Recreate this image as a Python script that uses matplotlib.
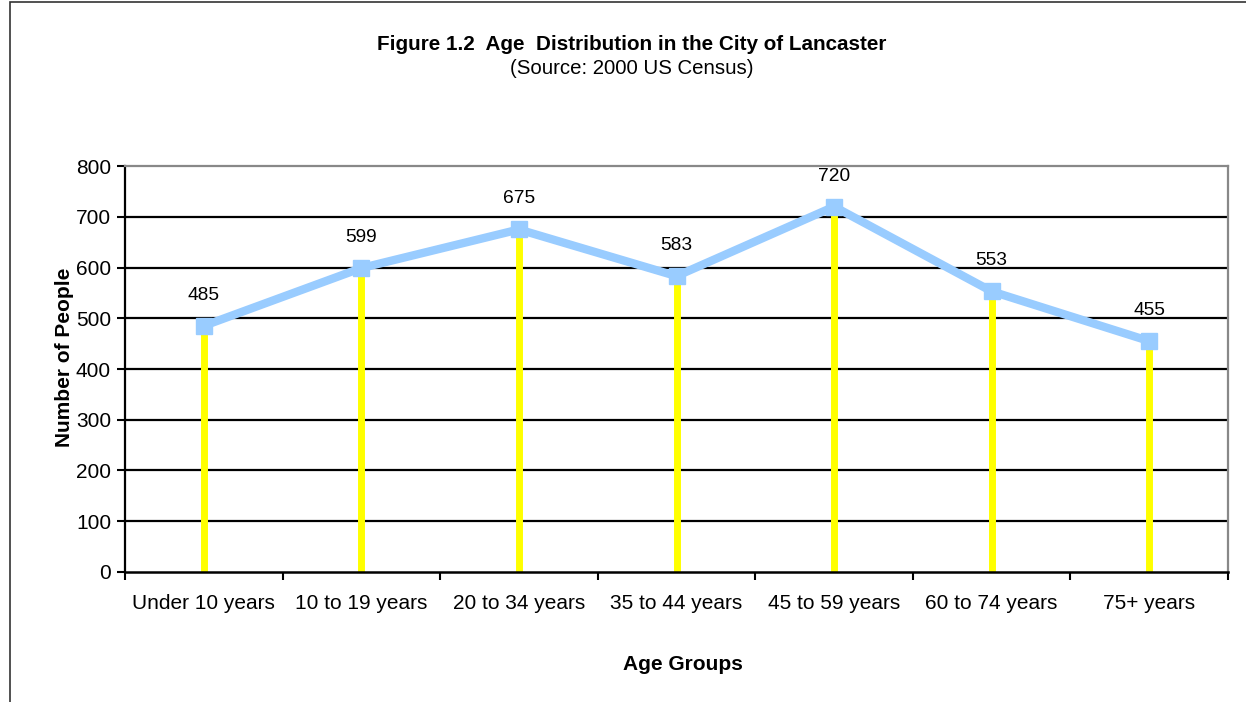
import matplotlib
matplotlib.use("Agg")
import matplotlib.pyplot as plt
from matplotlib.patches import Rectangle
import numpy as np

plt.rcParams['font.family'] = ['Liberation Sans', 'DejaVu Sans']

groups = ['Under 10 years', '10 to 19 years', '20 to 34 years', '35 to 44 years',
          '45 to 59 years', '60 to 74 years', '75+ years']
people = [485, 599, 675, 583, 720, 553, 455]
yticks = [0, 100, 200, 300, 400, 500, 600, 700, 800]

fig = plt.figure(figsize=(12.46, 7.02), dpi=100)
ax = fig.add_axes([0.1003, 0.1852, 0.8853, 0.5783])

x = np.arange(len(groups))

# frame of the whole chart (only left/top edges visible in the reference)
fig.patches.append(Rectangle((9.5 / 1246, -0.1), 1.2, 1.1 - 1.5 / 702,
                             transform=fig.transFigure, fill=False,
                             edgecolor='#333333', linewidth=1.2))

for v in yticks[1:-1]:
    ax.axhline(v, color='black', linewidth=1.6, zorder=1)

ax.vlines(x, 0, people, color='#ffff00', linewidth=5, zorder=2)
ax.plot(x, people, color='#99ccff', linewidth=6, marker='s', markersize=12,
        zorder=3)

for xi, v in zip(x, people):
    ax.annotate(str(v), (xi, v), xytext=(0, 22), textcoords='offset points',
                ha='center', va='center', fontsize=13.8)

ax.set_xlim(-0.5, len(groups) - 0.5)
ax.set_ylim(0, 800)
ax.set_yticks(yticks)
ax.set_yticklabels([str(t) for t in yticks], fontsize=15)
ax.set_xticks(np.arange(len(groups) + 1) - 0.5)
ax.set_xticklabels([])
ax.set_xticks(x, minor=True)
ax.set_xticklabels(groups, minor=True, fontsize=15)
ax.tick_params(axis='x', which='minor', length=0, pad=16)
ax.tick_params(axis='x', which='major', length=6, width=1.5, direction='out')
ax.tick_params(axis='y', length=6, width=1.5, direction='out', pad=4)

ax.spines['left'].set_linewidth(1.6)
ax.spines['bottom'].set_linewidth(1.8)
ax.spines['top'].set_color('#888888')
ax.spines['right'].set_color('#888888')
ax.spines['top'].set_linewidth(1.6)
ax.spines['right'].set_linewidth(1.6)

ax.set_ylabel('Number of People', fontsize=15, fontweight='bold', labelpad=8)
ax.yaxis.set_label_coords(-0.046, 0.53)
ax.set_xlabel('Age Groups', fontsize=15, fontweight='bold', labelpad=30)
ax.xaxis.label.set_x(0.506)

fig.text(632 / 1246, 1 - 45 / 702, 'Figure 1.2  Age  Distribution in the City of Lancaster',
         ha='center', va='center', fontsize=14.9, fontweight='bold')
fig.text(632 / 1246, 1 - 69 / 702, '(Source: 2000 US Census)',
         ha='center', va='center', fontsize=14.7)

fig.savefig('out.png', dpi=100)
